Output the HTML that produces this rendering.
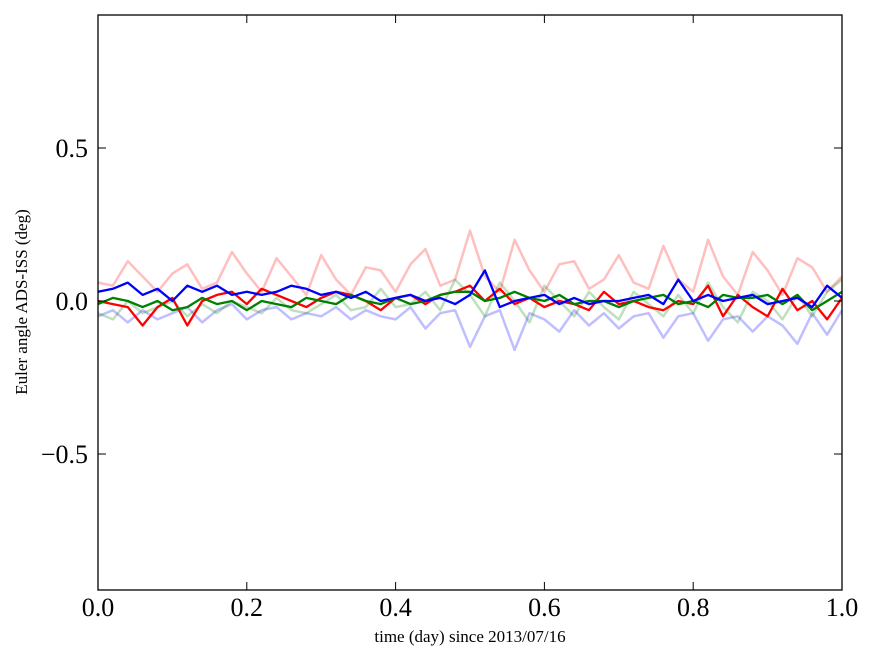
<!DOCTYPE html>
<html><head><meta charset="utf-8"><style>
body{margin:0;background:#fff;}
svg text{font-family:"Liberation Serif",serif;fill:#000;}
</style></head><body>
<svg id="chart" width="875" height="662">
<rect x="0" y="0" width="875" height="662" fill="#fff"/>
<g id="series"></g>
<rect x="98" y="15" width="744" height="575" fill="none" stroke="#000" stroke-width="1.3"/>
<g id="axes"></g>
<text x="470" y="642" font-size="17" text-anchor="middle">time (day) since 2013/07/16</text>
<text transform="translate(27,302) rotate(-90)" font-size="17" text-anchor="middle">Euler angle ADS-ISS (deg)</text>
</svg>
<script>
const xTicks=[0,0.2,0.4,0.6,0.8,1.0];
const xTickLabels=["0.0","0.2","0.4","0.6","0.8","1.0"];
const yTicks=[-0.5,0,0.5];
const yTickLabels=["\u22120.5","0.0","0.5"];
const lightRed=[0.06,0.05,0.13,0.08,0.03,0.09,0.12,0.04,0.06,0.16,0.09,0.03,0.14,0.08,0.02,0.15,0.07,0.02,0.11,0.10,0.03,0.12,0.17,0.05,0.07,0.23,0.08,0.03,0.20,0.10,0.03,0.12,0.13,0.04,0.07,0.15,0.06,0.04,0.18,0.07,0.03,0.20,0.08,0.02,0.16,0.10,0.02,0.14,0.11,0.03,0.08];
const lightBlue=[-0.05,-0.03,-0.07,-0.03,-0.06,-0.04,-0.02,-0.07,-0.03,-0.01,-0.06,-0.03,-0.02,-0.06,-0.04,-0.05,-0.02,-0.06,-0.03,-0.05,-0.06,-0.02,-0.09,-0.04,-0.03,-0.15,-0.05,-0.03,-0.16,-0.04,-0.06,-0.10,-0.03,-0.08,-0.04,-0.09,-0.05,-0.04,-0.12,-0.05,-0.04,-0.13,-0.06,-0.05,-0.10,-0.05,-0.08,-0.14,-0.04,-0.11,-0.03];
const lightGreen=[-0.04,-0.06,0.0,-0.04,-0.02,0.0,-0.05,-0.01,-0.04,0.0,-0.02,-0.04,0.01,-0.03,-0.04,-0.01,0.02,-0.03,-0.02,0.04,-0.02,-0.01,0.03,-0.03,0.07,0.02,-0.05,0.06,0.0,-0.07,0.05,0.0,-0.05,0.03,-0.02,-0.06,0.03,-0.01,-0.05,0.02,-0.04,0.06,-0.02,-0.07,0.03,0.0,-0.06,0.02,-0.05,0.03,0.07];
const red=[0.0,-0.01,-0.02,-0.08,-0.02,0.01,-0.08,0.0,0.02,0.03,-0.01,0.04,0.02,0.0,-0.02,0.01,0.03,0.02,0.0,-0.03,0.01,0.02,-0.01,0.02,0.03,0.05,0.0,0.04,-0.01,0.01,-0.02,0.0,-0.01,-0.03,0.03,-0.01,0.0,-0.02,-0.03,0.0,-0.01,0.05,-0.05,0.02,-0.02,-0.05,0.04,-0.03,0.0,-0.06,0.01];
const green=[-0.01,0.01,0.0,-0.02,0.0,-0.03,-0.02,0.01,-0.01,0.0,-0.03,0.0,-0.01,-0.02,0.01,0.0,-0.01,0.02,0.0,-0.01,0.01,-0.01,0.0,0.02,0.03,0.03,0.0,0.01,0.03,0.01,0.0,0.02,-0.01,0.0,0.0,-0.02,0.0,0.01,0.02,-0.01,0.0,-0.02,0.02,0.01,0.01,0.02,-0.01,0.02,-0.03,0.0,0.03];
const blue=[0.03,0.04,0.06,0.02,0.04,0.0,0.05,0.03,0.05,0.02,0.03,0.02,0.03,0.05,0.04,0.02,0.03,0.01,0.03,0.0,0.01,0.02,0.0,0.01,-0.01,0.02,0.10,-0.02,0.0,0.01,0.02,-0.01,0.01,-0.01,0.0,0.0,0.01,0.02,-0.01,0.07,0.0,0.02,0.0,0.01,0.02,-0.01,0.0,0.01,-0.02,0.05,0.01];

const X0=98,X1=842,Y0=301,YS=306;
function sx(v){return X0+v*(X1-X0);}
function sy(v){return Y0-v*YS;}
const NS="http://www.w3.org/2000/svg";
const sg=document.getElementById('series');
function line(arr,color,op,w,name){
  const n=arr.length;
  const d=arr.map((v,i)=>(i?'L':'M')+sx(i/(n-1)).toFixed(1)+','+sy(v).toFixed(1)).join('');
  const p=document.createElementNS(NS,'path');
  p.setAttribute('d',d);p.setAttribute('fill','none');p.setAttribute('stroke',color);
  p.setAttribute('stroke-opacity',op);p.setAttribute('stroke-width',w);p.setAttribute('stroke-linejoin','round');
  
  
  sg.appendChild(p);
}
line(lightRed,'#ff0000',0.25,2.5,'light-red-line');
line(lightBlue,'#0000ff',0.25,2.5,'light-blue-line');
line(lightGreen,'#008000',0.25,2.5,'light-green-line');
line(red,'#ff0000',1,2.3,'red-line');
line(green,'#008000',1,2.3,'green-line');
line(blue,'#0000ff',1,2.3,'blue-line');

const ag=document.getElementById('axes');
function el(tag,attrs){const e=document.createElementNS(NS,tag);for(const k in attrs)e.setAttribute(k,attrs[k]);ag.appendChild(e);return e;}
xTicks.forEach((v,i)=>{
  const x=sx(v);
  const t1=el('line',{x1:x,y1:590,x2:x,y2:582,stroke:'#000'});
  
  
  const t2=el('line',{x1:x,y1:15,x2:x,y2:23,stroke:'#000'});
  
  
  const t=el('text',{x:x,y:616,'font-size':26,'text-anchor':'middle'});
  t.textContent=xTickLabels[i];
  
  
});
yTicks.forEach((v,i)=>{
  const y=sy(v);
  const t1=el('line',{x1:98,y1:y,x2:106,y2:y,stroke:'#000'});
  
  
  const t2=el('line',{x1:842,y1:y,x2:834,y2:y,stroke:'#000'});
  
  
  const t=el('text',{x:88,y:y+9,'font-size':26,'text-anchor':'end'});
  t.textContent=yTickLabels[i];
  
  
});
</script>
</body></html>
